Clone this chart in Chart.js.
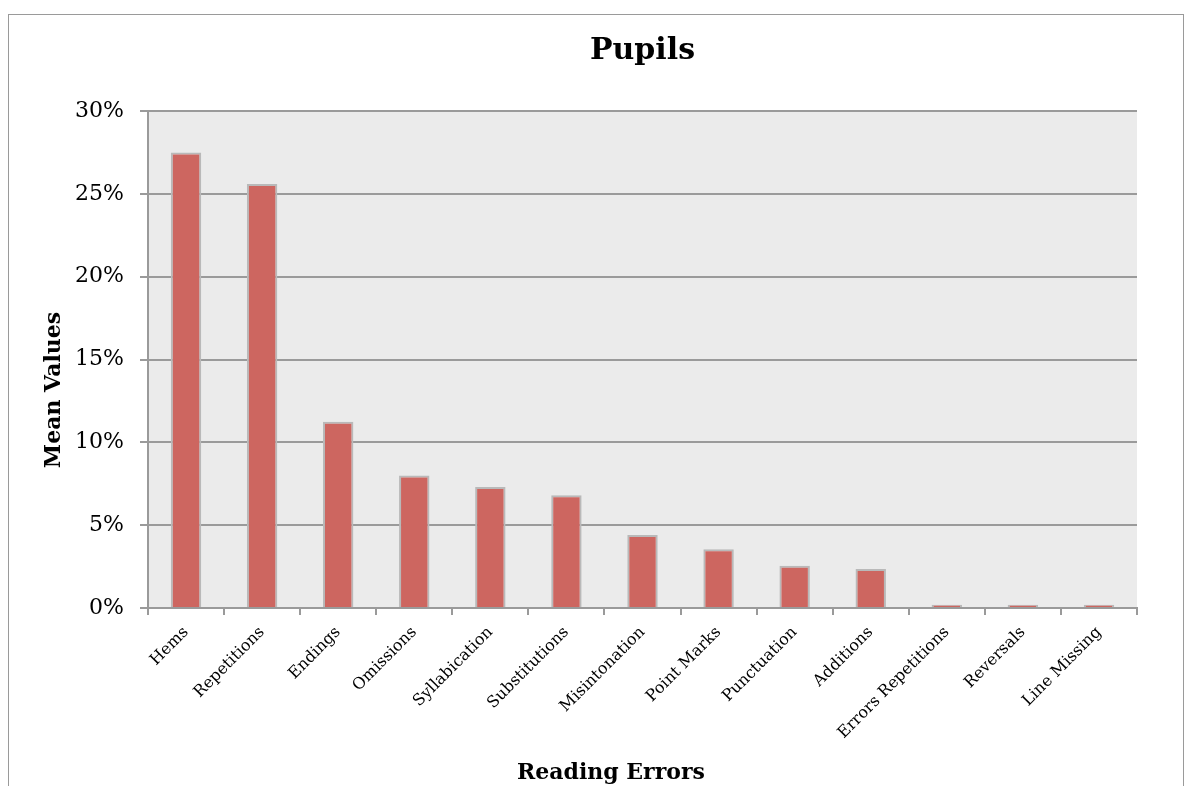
<!DOCTYPE html>
<html>
<head>
<meta charset="utf-8">
<script src="https://cdn.jsdelivr.net/npm/chart.js@4"></script>
<style>
  body { margin: 0; background: #fff; }
  #cadre { position: absolute; left: 8px; top: 14px; width: 1174px; height: 800px; border: 1px solid #9a9a9a; }
  #cadre canvas { display: block; }
</style>
</head>
<body>
<div id="cadre"><canvas id="graphique" width="1174" height="771"></canvas></div>
<script>
// donnees
const categories = ["Hems", "Repetitions", "Endings", "Omissions", "Syllabication", "Substitutions",
	"Misintonation", "Point Marks", "Punctuation", "Additions", "Errors Repetitions", "Reversals", "Line Missing"];
const moyennes = [27.5, 25.6, 11.25, 8.0, 7.3, 6.8, 4.4, 3.55, 2.55, 2.35, 0.2, 0.2, 0.2];
const graduations = [0, 5, 10, 15, 20, 25, 30];
const titreX = 'Reading Errors';
const titreY = 'Mean Values';

var police = "'DejaVu Serif', 'Liberation Serif', serif";

const fondZone = {
	id: 'fondZone',
	beforeDraw: function(chart) {
		var a = chart.chartArea, ctx = chart.ctx;
		ctx.save();
		ctx.fillStyle = '#ebebeb';
		ctx.fillRect(a.left, a.top, a.right - a.left, a.bottom - a.top);
		ctx.restore();
	},
	// titres des axes places comme dans l'original (pas centres sur la zone)
	afterDraw: function(chart) {
		var a = chart.chartArea, ctx = chart.ctx;
		ctx.save();
		ctx.fillStyle = '#000';
		ctx.font = 'bold 22px ' + police;
		ctx.textAlign = 'center';
		ctx.textBaseline = 'middle';
		ctx.fillText(titreX, a.left + 463, a.bottom + 165);
		ctx.translate(a.left - 94, a.bottom - 218);
		ctx.rotate(-Math.PI / 2);
		ctx.fillText(titreY, 0, 0);
		ctx.restore();
	}
};

new Chart(document.getElementById("graphique").getContext("2d"), {
	type: 'bar',
	data: {
		labels: categories,
		datasets: [{
			label: 'Pupils',
			data: moyennes,
			backgroundColor: '#cd6660',
			borderColor: '#b9b9b9',
			borderWidth: 2,
			barPercentage: 0.4,
			categoryPercentage: 1.0
		}]
	},
	options: {
		responsive: false,
		animation: false,
		layout: { padding: { top: 0, right: 46, bottom: 0, left: 0 } },
		plugins: {
			legend: { display: false },
			tooltip: { enabled: false },
			title: {
				display: true,
				text: 'Pupils',
				fullSize: false,
				color: '#000',
				font: { family: police, size: 30, weight: 'bold' },
				padding: { top: 18, bottom: 42 }
			}
		},
		scales: {
			x: {
				grid: { drawOnChartArea: false, drawTicks: true, tickLength: 7, color: '#9a9a9a', lineWidth: 2 },
				border: { color: '#9a9a9a', width: 2 },
				ticks: { color: '#000', minRotation: 45, maxRotation: 45, autoSkip: false, padding: 8,
					font: { family: police, size: 16 } },
				afterFit: function(s) { s.height = 178; }
			},
			y: {
				min: 0,
				max: 30,
				afterBuildTicks: function(s) { s.ticks = graduations.map(function(v) { return { value: v }; }); },
				grid: { color: '#9a9a9a', lineWidth: 2, tickLength: 8 },
				border: { color: '#9a9a9a', width: 2 },
				ticks: { color: '#000', padding: 16, font: { family: police, size: 22 },
					callback: function(v) { return v + '%'; } },
				afterFit: function(s) { s.width = 139; }
			}
		}
	},
	plugins: [fondZone]
});
</script>
</body>
</html>
